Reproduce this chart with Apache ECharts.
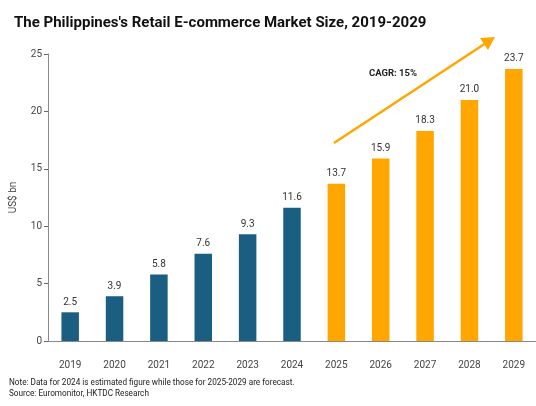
<!DOCTYPE html>
<html>
<head>
<meta charset="utf-8">
<script src="https://cdn.jsdelivr.net/npm/echarts@6/dist/echarts.min.js"></script>
<style>
  html, body { margin: 0; padding: 0; background: #fff; }
  #main { width: 536px; height: 406px; }
</style>
</head>
<body>
<div id="main"></div>
<script>
// data
var years = ['2019', '2020', '2021', '2022', '2023', '2024', '2025', '2026', '2027', '2028', '2029'];
var marketSize = [2.5, 3.9, 5.8, 7.6, 9.3, 11.6, 13.7, 15.9, 18.3, 21.0, 23.7];
var firstForecastYear = '2025';
var yTicks = [0, 5, 10, 15, 20, 25];

var blue = '#1a5f82';
var orange = '#ffa600';
var fontFam = 'Roboto, "Noto Sans", sans-serif';

var chart = echarts.init(document.getElementById('main'));

var option = {
    backgroundColor: '#fff',
    textStyle: { fontFamily: fontFam },
    title: {
        text: "The Philippines's Retail E-commerce Market Size, 2019-2029",
        left: 9,
        top: 11,
        textStyle: { fontSize: 15, fontWeight: 'bold', color: '#111', fontFamily: fontFam }
    },
    grid: { left: 43, right: 0, top: 54, bottom: 65 },
    xAxis: {
        type: 'category',
        data: years,
        axisLine: { lineStyle: { color: '#888' } },
        axisTick: { alignWithLabel: true, length: 4, lineStyle: { color: '#666' } },
        axisLabel: { color: '#444', fontSize: 10, margin: 19 }
    },
    yAxis: {
        type: 'value',
        min: yTicks[0],
        max: yTicks[yTicks.length - 1],
        interval: 5,
        name: 'US$ bn',
        nameLocation: 'middle',
        nameGap: 30,
        nameTextStyle: { color: '#444', fontSize: 10 },
        axisLine: { show: true, lineStyle: { color: '#888' } },
        axisTick: { show: true, length: 4, lineStyle: { color: '#666' } },
        axisLabel: { color: '#444', fontSize: 10, margin: 6 },
        splitLine: { show: false }
    },
    series: [{
        type: 'bar',
        data: marketSize,
        barWidth: 17.5,
        itemStyle: {
            color: function (p) {
                return years[p.dataIndex] >= firstForecastYear ? orange : blue;
            }
        },
        label: {
            show: true,
            position: 'top',
            distance: 5,
            color: '#333',
            fontSize: 10,
            formatter: function (p) { return p.value.toFixed(1); }
        }
    }],
    graphic: [
        {
            type: 'line',
            shape: { x1: 334, y1: 143, x2: 486, y2: 43 },
            style: { stroke: orange, lineWidth: 2.5 }
        },
        {
            type: 'polygon',
            shape: { points: [[495, 37], [480, 38], [488, 50]] },
            style: { fill: orange }
        },
        {
            type: 'text',
            left: 369,
            top: 69,
            style: { text: 'CAGR: 15%', font: 'bold 9.5px ' + fontFam, fill: '#222' }
        },
        {
            type: 'text',
            left: 9,
            top: 377,
            style: {
                text: 'Note: Data for 2024 is estimated figure while those for 2025-2029 are forecast.\nSource: Euromonitor, HKTDC Research',
                font: '8.2px ' + fontFam,
                lineHeight: 11,
                fill: '#222'
            }
        }
    ]
};

chart.setOption(option);
</script>
</body>
</html>
